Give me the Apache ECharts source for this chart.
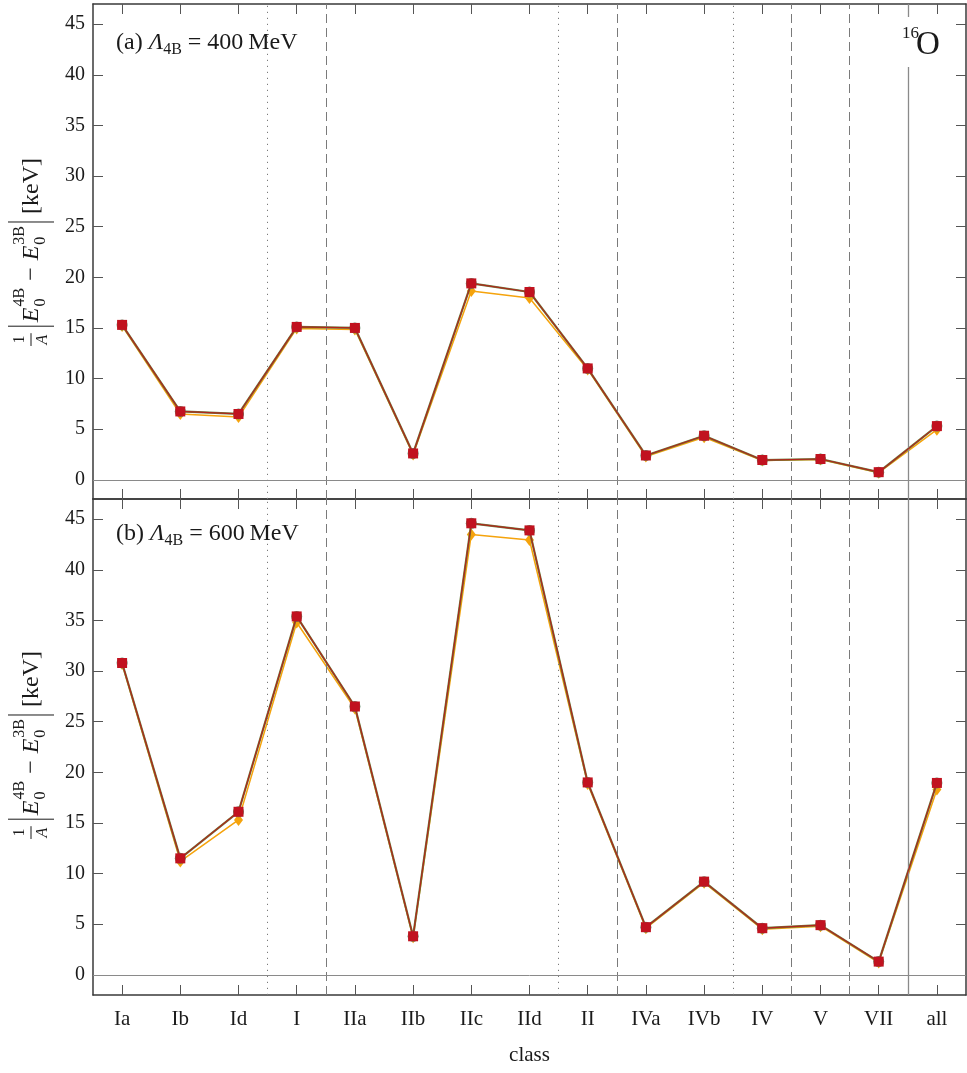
<!DOCTYPE html>
<html>
<head>
<meta charset="utf-8">
<script src="https://cdn.jsdelivr.net/npm/echarts@6/dist/echarts.min.js"></script>
<style>
  html, body { margin: 0; padding: 0; background: #fff; }
  #chart { width: 967px; height: 1073px; }
</style>
</head>
<body>
<div id="chart"></div>
<script>
// Classes of the interaction terms
const categories = ['Ia', 'Ib', 'Id', 'I', 'IIa', 'IIb', 'IIc', 'IId', 'II', 'IVa', 'IVb', 'IV', 'V', 'VII', 'all'];
const yTicks = [0, 5, 10, 15, 20, 25, 30, 35, 40, 45];

// (a) Λ_4B = 400 MeV
const a400Orange = [15.2, 6.5, 6.2, 14.95, 14.85, 2.5, 18.65, 17.95, 10.9, 2.3, 4.2, 1.9, 2.0, 0.7, 4.95];
const a400Green  = [15.3, 6.75, 6.5, 15.1, 15.0, 2.6, 19.4, 18.55, 11.0, 2.4, 4.35, 1.95, 2.05, 0.75, 5.3];
const a400Red    = [15.3, 6.75, 6.5, 15.1, 15.0, 2.6, 19.4, 18.55, 11.0, 2.4, 4.35, 1.95, 2.05, 0.75, 5.3];

// (b) Λ_4B = 600 MeV
const b600Orange = [30.7, 11.2, 15.3, 34.8, 26.3, 3.7, 43.5, 42.95, 18.85, 4.6, 9.1, 4.5, 4.8, 1.2, 18.3];
const b600Green  = [30.8, 11.5, 16.1, 35.4, 26.5, 3.8, 44.6, 43.9, 19.0, 4.7, 9.2, 4.6, 4.9, 1.3, 18.95];
const b600Red    = [30.8, 11.5, 16.1, 35.4, 26.5, 3.8, 44.6, 43.9, 19.0, 4.7, 9.2, 4.6, 4.9, 1.3, 18.95];

// Separators between class groups: [position, style]
const separators = [
  [2.5, 'dotted'], [3.5, 'dashed'], [7.5, 'dotted'], [8.5, 'dashed'],
  [10.5, 'dotted'], [11.5, 'dashed'], [12.5, 'dashed'], [13.5, 'solid']
];

const FAM = '"Liberation Serif", "DejaVu Serif", serif';
const INK = '#1a1a1a';
const AXIS = '#3a3a3a';

const mctx = document.createElement('canvas').getContext('2d');
function tw(text, size, italic) {
  mctx.font = (italic ? 'italic ' : '') + size + 'px ' + FAM;
  return mctx.measureText(text).width;
}
function font(size, italic) { return (italic ? 'italic ' : '') + size + 'px ' + FAM; }
function txt(text, x, y, size, italic, align) {
  return { type: 'text', x: x, y: y, z: 100,
    style: { text: text, font: font(size, italic), fill: INK,
             textAlign: align || 'left', textVerticalAlign: 'middle' } };
}

// Rotated y label: 1/A |E0^4B − E0^3B| [keV]
function yLabel(cx, cy) {
  const M = 24, S = 16;
  const kids = [];
  let x = 0;
  const fw = Math.max(tw('1', S), tw('A', S, true)) + 3;
  kids.push(txt('1', x + fw / 2, -11, S, false, 'center'));
  kids.push({ type: 'line', shape: { x1: x, y1: 0, x2: x + fw, y2: 0 }, style: { stroke: INK, lineWidth: 1 } });
  kids.push(txt('A', x + fw / 2, 12, S, true, 'center'));
  x += fw + 7;
  kids.push({ type: 'line', shape: { x1: x, y1: -23, x2: x, y2: 23 }, style: { stroke: INK, lineWidth: 1 } });
  x += 4;
  function term(sup) {
    kids.push(txt('E', x, 1, M, true));
    x += tw('E', M, true) + 1;
    kids.push(txt(sup, x, -11, S));
    kids.push(txt('0', x, 10, S));
    x += Math.max(tw(sup, S), tw('0', S));
  }
  term('4B');
  x += 7;
  kids.push(txt('\u2212', x, 1, M));
  x += tw('\u2212', M) + 7;
  term('3B');
  x += 4;
  kids.push({ type: 'line', shape: { x1: x, y1: -23, x2: x, y2: 23 }, style: { stroke: INK, lineWidth: 1 } });
  x += 8;
  kids.push(txt('[keV]', x, 1, M));
  x += tw('[keV]', M);
  const W = x;
  kids.forEach(k => { if (k.type === 'line') { k.shape.x1 -= W / 2; k.shape.x2 -= W / 2; } else { k.x -= W / 2; } });
  return { type: 'group', x: cx, y: cy, rotation: Math.PI / 2, children: kids };
}

// Panel title: (a) Λ_4B = 400 MeV
function panelTitle(tag, energy, x0, y0) {
  const M = 24, S = 16;
  const kids = [];
  let x = x0;
  kids.push(txt('(' + tag + ') ', x, y0, M)); x += tw('(' + tag + ') ', M);
  kids.push(txt('\u039B', x, y0, M, true)); x += tw('\u039B', M, true);
  kids.push(txt('4B', x, y0 + 7, S)); x += tw('4B', S);
  kids.push(txt(' = ' + energy + '\u2009MeV', x, y0, M));
  return { type: 'group', children: kids };
}

const GL = 93, GW = 873;
const grids = [
  { left: GL, top: 4, width: GW, height: 495 },
  { left: GL, top: 499, width: GW, height: 496 }
];

const xAxes = [], yAxes = [];
grids.forEach((g, gi) => {
  const tickCfg = { show: true, inside: true, alignWithLabel: true, length: 10, interval: 0,
                    lineStyle: { color: '#555', width: 1 } };
  xAxes.push({ type: 'category', gridIndex: gi, position: 'bottom', data: categories, boundaryGap: true,
    axisLine: { show: true, onZero: false, lineStyle: { color: AXIS, width: 1.5 } },
    axisTick: tickCfg,
    axisLabel: { show: gi === 1, interval: 0, color: INK, fontFamily: FAM, fontSize: 21, margin: 14 },
    name: gi === 1 ? 'class' : '', nameLocation: 'middle', nameGap: 50,
    nameTextStyle: { color: INK, fontFamily: FAM, fontSize: 21 },
    splitLine: { show: false } });
  xAxes.push({ type: 'category', gridIndex: gi, position: 'top', data: categories, boundaryGap: true,
    axisLine: { show: true, onZero: false, lineStyle: { color: AXIS, width: 1.5 } },
    axisTick: tickCfg, axisLabel: { show: false }, splitLine: { show: false } });
  xAxes.push({ type: 'value', gridIndex: gi, min: -0.5, max: 14.5, show: false });

  const ymin = gi === 0 ? -1.9 : -2.0;
  yAxes.push({ type: 'value', gridIndex: gi, position: 'left', min: ymin, max: 47,
    axisLine: { show: true, onZero: false, lineStyle: { color: AXIS, width: 1.5 } },
    axisTick: { show: true, inside: true, length: 10, customValues: yTicks, lineStyle: { color: '#555' } },
    axisLabel: { show: true, customValues: yTicks, color: INK, fontFamily: FAM, fontSize: 20, margin: 8 },
    splitLine: { show: false } });
  yAxes.push({ type: 'value', gridIndex: gi, position: 'right', min: ymin, max: 47,
    axisLine: { show: true, onZero: false, lineStyle: { color: AXIS, width: 1.5 } },
    axisTick: { show: true, inside: true, length: 10, customValues: yTicks, lineStyle: { color: '#555' } },
    axisLabel: { show: false }, splitLine: { show: false } });
});

function guideSeries(gi) {
  const data = separators.map(([pos, kind]) => ({
    xAxis: pos,
    lineStyle: {
      color: kind === 'solid' ? '#8a8a8a' : '#7a7a7a',
      width: kind === 'solid' ? 1.3 : 1,
      type: kind === 'dotted' ? [1.2, 4.8] : (kind === 'dashed' ? [9, 5] : 'solid')
    }
  }));
  data.push({ yAxis: 0, lineStyle: { color: '#8a8a8a', width: 1, type: 'solid' } });
  return { type: 'line', xAxisIndex: gi * 3 + 2, yAxisIndex: gi * 2, data: [], z: 1, silent: true,
    markLine: { symbol: 'none', silent: true, label: { show: false }, animation: false, data: data } };
}

function dataSeries(gi, orange, green, red) {
  return [
    { type: 'line', xAxisIndex: gi * 3, yAxisIndex: gi * 2, data: orange, z: 3,
      symbol: 'diamond', symbolSize: [9, 12],
      itemStyle: { color: '#f5a30c' }, lineStyle: { color: '#f5a30c', width: 1.5 } },
    { type: 'line', xAxisIndex: gi * 3, yAxisIndex: gi * 2, data: green, z: 4,
      symbol: 'circle', symbolSize: 11,
      itemStyle: { color: '#5f8a6a' }, lineStyle: { color: '#6a7d3c', width: 2.2 } },
    { type: 'line', xAxisIndex: gi * 3, yAxisIndex: gi * 2, data: red, z: 5,
      symbol: 'rect', symbolSize: 10,
      itemStyle: { color: '#c1121f' }, lineStyle: { color: '#b0261c', width: 1.2 } }
  ];
}

const chart = echarts.init(document.getElementById('chart'), null, { renderer: 'canvas' });
chart.setOption({
  animation: false,
  backgroundColor: '#ffffff',
  grid: grids,
  xAxis: xAxes,
  yAxis: yAxes,
  series: [
    guideSeries(0), guideSeries(1),
    ...dataSeries(0, a400Orange, a400Green, a400Red),
    ...dataSeries(1, b600Orange, b600Green, b600Red)
  ],
  graphic: [
    yLabel(31, 252),
    yLabel(31, 745),
    panelTitle('a', '400', 116, 43),
    panelTitle('b', '600', 116, 534),
    { type: 'rect', z: 90, shape: { x: 897, y: 17, width: 52, height: 50 }, style: { fill: '#ffffff' } },
    txt('16', 902, 34, 17),
    txt('O', 916, 45, 33)
  ]
});
</script>
</body>
</html>
